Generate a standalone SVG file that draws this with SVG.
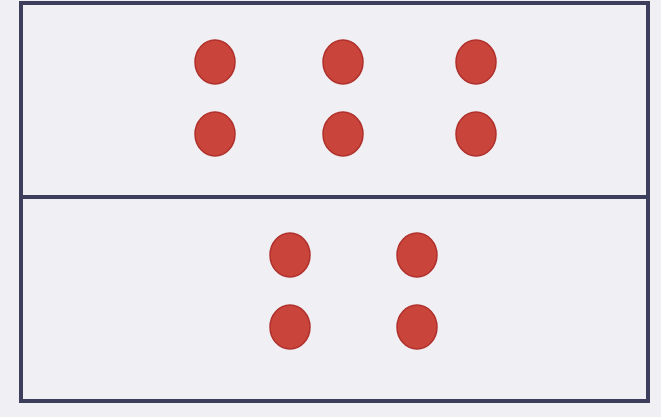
<svg xmlns="http://www.w3.org/2000/svg" width="661" height="417" viewBox="0 0 661 417">
  <defs>
    <style>
      .frame { fill: none; stroke: #3d3d5c; stroke-width: 4; }
      .dot { fill: #c9443a; stroke: #b0302c; stroke-width: 1.5; }
    </style>
  </defs>
  <rect x="0" y="0" width="661" height="417" fill="#efeff4"/>
  <g id="top-box">
    <rect class="frame" x="21" y="3" width="627" height="194"/>
    <ellipse class="dot" cx="215" cy="62" rx="20" ry="22"/>
    <ellipse class="dot" cx="343" cy="62" rx="20" ry="22"/>
    <ellipse class="dot" cx="476" cy="62" rx="20" ry="22"/>
    <ellipse class="dot" cx="215" cy="134" rx="20" ry="22"/>
    <ellipse class="dot" cx="343" cy="134" rx="20" ry="22"/>
    <ellipse class="dot" cx="476" cy="134" rx="20" ry="22"/>
  </g>
  <g id="bottom-box">
    <rect class="frame" x="21" y="197" width="627" height="204"/>
    <ellipse class="dot" cx="290" cy="255" rx="20" ry="22"/>
    <ellipse class="dot" cx="417" cy="255" rx="20" ry="22"/>
    <ellipse class="dot" cx="290" cy="327" rx="20" ry="22"/>
    <ellipse class="dot" cx="417" cy="327" rx="20" ry="22"/>
  </g>
  <g id="connectors"></g>
</svg>
